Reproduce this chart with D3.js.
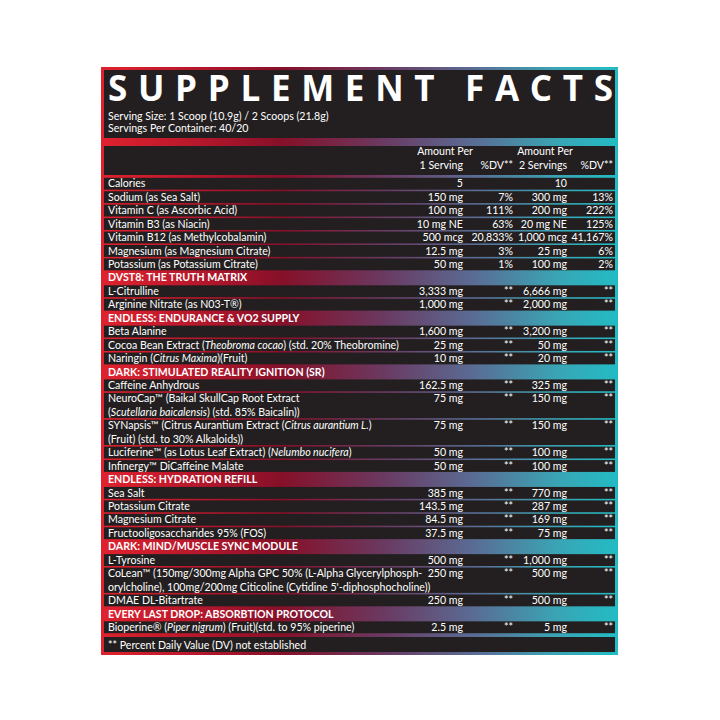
<!DOCTYPE html><html><head><meta charset="utf-8"><script src="https://cdn.jsdelivr.net/npm/d3@7"></script>
<style>body{margin:0;background:#fff}</style></head><body><svg id="c" width="720" height="720"></svg>
<script>
const title="SUPPLEMENT FACTS";
const servingLines=["Serving Size: 1 Scoop (10.9g) / 2 Scoops (21.8g)","Servings Per Container: 40/20"];
const colHeads=[["Amount Per","1 Serving"],["","%DV**"],["Amount Per","2 Servings"],["","%DV**"]];
// type: h = section header, r = ingredient row; name lines use <i> for italics
const rowTypes=["r","r","r","r","r","r","r","h","r","r","h","r","r","r","h","r","r","r","r","r","h","r","r","r","r","h","r","r","r","h","r"];
const names=[
["Calories"],["Sodium (as Sea Salt)"],["Vitamin C (as Ascorbic Acid)"],["Vitamin B3 (as Niacin)"],["Vitamin B12 (as Methylcobalamin)"],["Magnesium (as Magnesium Citrate)"],["Potassium (as Potassium Citrate)"],
["DVST8: THE TRUTH MATRIX"],["L-Citrulline"],["Arginine Nitrate (as N03-T®)"],
["ENDLESS: ENDURANCE & VO2 SUPPLY"],["Beta Alanine"],["Cocoa Bean Extract (<i>Theobroma cocao</i>) (std. 20% Theobromine)"],["Naringin (<i>Citrus Maxima</i>)(Fruit)"],
["DARK: STIMULATED REALITY IGNITION (SR)"],["Caffeine Anhydrous"],["NeuroCap™ (Baikal SkullCap Root Extract","(<i>Scutellaria baicalensis</i>) (std. 85% Baicalin))"],["SYNapsis™ (Citrus Aurantium Extract (<i>Citrus aurantium L.</i>)","(Fruit) (std. to 30% Alkaloids))"],["Luciferine™ (as Lotus Leaf Extract) (<i>Nelumbo nucifera</i>)"],["Infinergy™ DiCaffeine Malate"],
["ENDLESS: HYDRATION REFILL"],["Sea Salt"],["Potassium Citrate"],["Magnesium Citrate"],["Fructooligosaccharides 95% (FOS)"],
["DARK: MIND/MUSCLE SYNC MODULE"],["L-Tyrosine"],["CoLean™ (150mg/300mg Alpha GPC 50% (L-Alpha Glycerylphosph-","orylcholine), 100mg/200mg Citicoline (Cytidine 5'-diphosphocholine))"],["DMAE DL-Bitartrate"],
["EVERY LAST DROP: ABSORBTION PROTOCOL"],["Bioperine® (<i>Piper nigrum</i>) (Fruit)(std. to 95% piperine)"]];
const amt1=["5","150 mg","100 mg","10 mg NE","500 mcg","12.5 mg","50 mg","","3,333 mg","1,000 mg","","1,600 mg","25 mg","10 mg","","162.5 mg","75 mg","75 mg","50 mg","50 mg","","385 mg","143.5 mg","84.5 mg","37.5 mg","","500 mg","250 mg","250 mg","","2.5 mg"];
const dv1=["","7%","111%","63%","20,833%","3%","1%","","**","**","","**","**","**","","**","**","**","**","**","","**","**","**","**","","**","**","**","","**"];
const amt2=["10","300 mg","200 mg","20 mg NE","1,000 mcg","25 mg","100 mg","","6,666 mg","2,000 mg","","3,200 mg","50 mg","20 mg","","325 mg","150 mg","150 mg","100 mg","100 mg","","770 mg","287 mg","169 mg","75 mg","","1,000 mg","500 mg","500 mg","","5 mg"];
const dv2=["","13%","222%","125%","41,167%","6%","2%","","**","**","","**","**","**","","**","**","**","**","**","","**","**","**","**","","**","**","**","","**"];
const footnote="** Percent Daily Value (DV) not established";

const svg=d3.select("#c");
const defs=svg.append("defs");
const g=defs.append("linearGradient").attr("id","gr").attr("x1","0").attr("x2","1").attr("y1","0").attr("y2","0");
[[0,"#e0222e"],[0.18,"#b8182c"],[0.35,"#861029"],[0.55,"#6a3a62"],[0.72,"#5a6c94"],[0.88,"#3aa4b4"],[1,"#22bcc4"]].forEach(([o,c])=>g.append("stop").attr("offset",o).attr("stop-color",c));
const L=101,R=618,iL=104,iR=615,dark="#231f20",font="Lato, 'Open Sans', sans-serif",fs=10.6;
svg.append("rect").attr("x",L).attr("y",67).attr("width",R-L).attr("height",588).attr("fill","url(#gr)");
svg.append("rect").attr("x",iL).attr("y",70).attr("width",iR-iL).attr("height",68).attr("fill",dark);
svg.append("text").attr("x",108).attr("y",101).attr("textLength",505).attr("lengthAdjust","spacing").attr("fill","#fff").attr("font-family","'Open Sans', sans-serif").attr("font-weight","bold").attr("font-size",35).text(title);
servingLines.forEach((s,i)=>svg.append("text").attr("x",108).attr("y",120+i*12).attr("fill","#fff").attr("font-family",font).attr("font-size",fs).text(s));
svg.append("rect").attr("x",iL).attr("y",146).attr("width",iR-iL).attr("height",29).attr("fill",dark);
const colX=[463,513,567,613];
colHeads.forEach((h,i)=>{
 svg.append("text").attr("x",i===0?445:i===2?545:colX[i]).attr("y",155).attr("text-anchor",i%2===0?"middle":"end").attr("fill","#fff").attr("font-family",font).attr("font-size",fs).text(h[0]);
 svg.append("text").attr("x",colX[i]).attr("y",169).attr("text-anchor","end").attr("fill","#fff").attr("font-family",font).attr("font-size",fs).text(h[1]);
});
let acc=0;const starts=names.map(n=>{const s=acc;acc+=n.length;return s;});
const y=d3.scaleLinear().domain([0,acc]).range([177,634]);
const rows=svg.append("g");
names.forEach((n,i)=>{
 const y0=y(starts[i]),y1=y(starts[i]+n.length);
 const isH=rowTypes[i]==="h";
 if(!isH) rows.append("rect").attr("x",iL).attr("y",y0+0.8).attr("width",iR-iL).attr("height",y1-y0-1.6).attr("fill",dark);
 n.forEach((ln,k)=>{
  const t=rows.append("text").attr("x",108).attr("y",y(starts[i]+k)+10.4).attr("fill","#fff").attr("font-family",font).attr("font-size",fs).attr("font-weight",isH?"bold":"normal");
  ln.split(/(<i>.*?<\/i>)/).forEach(p=>{if(!p)return;const it=p.startsWith("<i>");t.append("tspan").attr("font-style",it?"italic":"normal").text(it?p.slice(3,-4):p);});
 });
 if(!isH){
  [amt1,dv1,amt2,dv2].forEach((arr,j)=>rows.append("text").attr("x",colX[j]).attr("y",y(starts[i])+10.4).attr("text-anchor","end").attr("fill","#fff").attr("font-family",font).attr("font-size",fs).text(arr[i]));
 }
});
svg.append("rect").attr("x",iL).attr("y",637).attr("width",iR-iL).attr("height",15).attr("fill",dark);
svg.append("text").attr("x",108).attr("y",648.5).attr("fill","#fff").attr("font-family",font).attr("font-size",fs).text(footnote);
</script></body></html>
